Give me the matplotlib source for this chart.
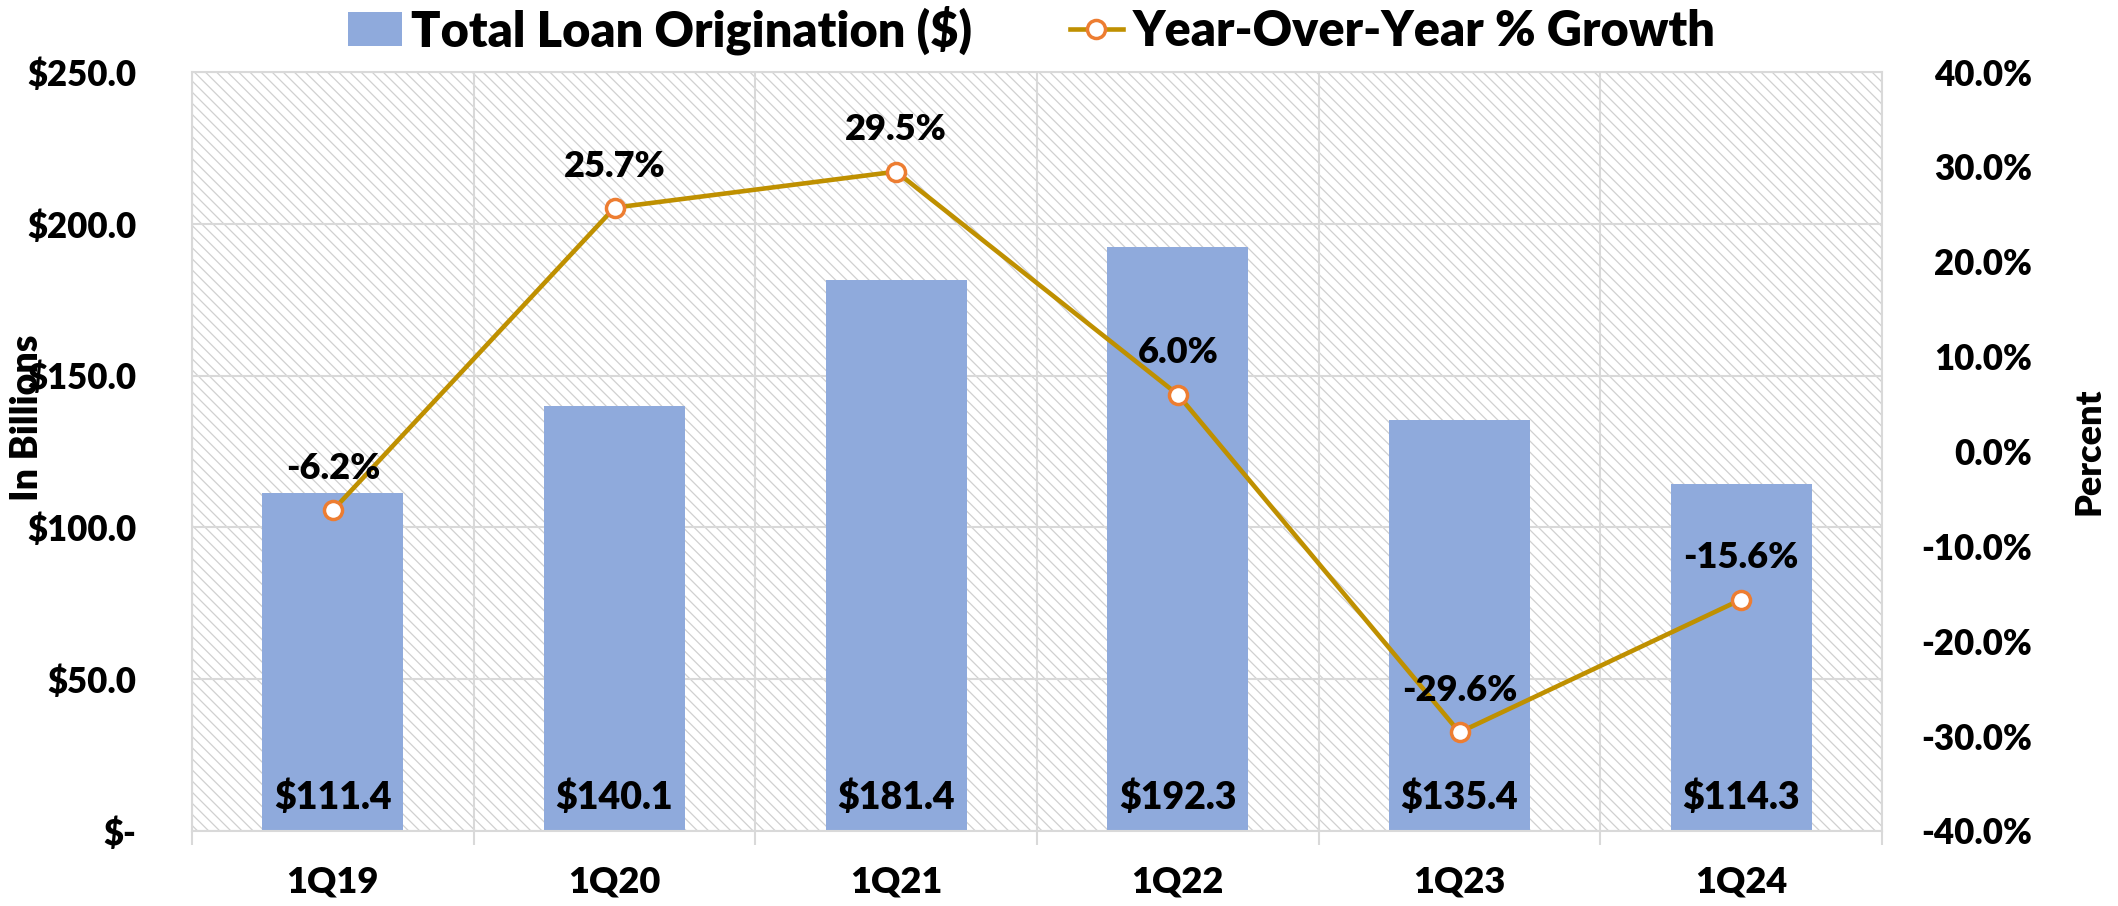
# Loan origination bars with year-over-year growth line.
import numpy as np
import matplotlib
matplotlib.use('Agg')
import matplotlib.pyplot as plt
from matplotlib.patches import Rectangle, Patch
from matplotlib.lines import Line2D

# Data.
quarters = ['1Q19', '1Q20', '1Q21', '1Q22', '1Q23', '1Q24']
origination = [111.4, 140.1, 181.4, 192.3, 135.4, 114.3]
growth = [-6.2, 25.7, 29.5, 6.0, -29.6, -15.6]
left_ticks = [0, 50, 100, 150, 200, 250]
right_ticks = [-40, -30, -20, -10, 0, 10, 20, 30, 40]

bar_color = '#8FAADC'
line_color = '#BF9000'
marker_edge = '#ED7D31'
grid_color = '#d9d9d9'
W = 'heavy'

plt.rcParams['font.family'] = ['Lato', 'DejaVu Sans']
plt.rcParams['font.weight'] = W
plt.rcParams['hatch.color'] = '#d0d0d0'
plt.rcParams['hatch.linewidth'] = 0.9

fig = plt.figure(figsize=(21.18, 9.06), dpi=100)
ax = fig.add_axes([192/2118, 1-831/906, (1882-192)/2118, (831-72)/906])
x = np.arange(len(quarters))

# Hatched plot background.
ax.add_patch(Rectangle((0, 0), 1, 1, transform=ax.transAxes, facecolor='white',
                       edgecolor='#d0d0d0', hatch='\\\\\\', lw=0, zorder=-1))

ax.bar(x, origination, width=0.5, color=bar_color, zorder=2)
ax.set_xlim(-0.5, len(quarters) - 0.5)
ax.set_ylim(0, 250)

# Bar value labels at the bottom of each bar.
for xi, v in zip(x, origination):
    ax.annotate(f'${v:.1f}', (xi, 0), xytext=(0, 24), textcoords='offset points',
                ha='center', va='center', fontsize=27, fontweight=W, zorder=5)

ax.set_yticks(left_ticks)
ax.set_yticklabels(['$-'] + [f'${t:.1f}' for t in left_ticks[1:]])
ax.set_xticks(x)
ax.set_xticklabels(quarters)
ax.set_xticks(np.arange(len(quarters) + 1) - 0.5, minor=True)
ax.tick_params(axis='y', length=0, pad=40, labelsize=25)
ax.tick_params(axis='x', which='major', length=0, pad=25, labelsize=26)
ax.tick_params(axis='x', which='minor', length=10, width=1.5, color=grid_color)
ax.set_axisbelow(True)
ax.grid(axis='y', which='major', color=grid_color, lw=1.5)
ax.grid(axis='x', which='minor', color=grid_color, lw=1.5)
for s in ax.spines.values():
    s.set_color(grid_color)
    s.set_linewidth(1.5)
ax.set_ylabel('In Billions', fontsize=27, fontweight=W)
ax.yaxis.set_label_coords(-(192-44)/1690, 0.545)

# Growth line on the right axis.
ax2 = ax.twinx()
ax2.plot(x, growth, color=line_color, lw=3.3, marker='o', ms=13,
         mfc='white', mec=marker_edge, mew=2.5, zorder=3)
ax2.set_ylim(-40, 40)
ax2.set_yticks(right_ticks)
ax2.set_yticklabels([f'{t:.1f}%' for t in right_ticks], ha='right')
ax2.tick_params(axis='y', length=0, pad=108, labelsize=25)
for s in ax2.spines.values():
    s.set_visible(False)
for xi, g in zip(x, growth):
    ax2.annotate(f'{g:.1f}%', (xi, g), xytext=(0, 30), textcoords='offset points',
                 ha='center', va='center', fontsize=26, fontweight=W)
ax2.set_ylabel('Percent', fontsize=26, fontweight=W)
ax2.yaxis.set_label_coords((2072-192)/1690, 0.50)

# Legend across the top.
handles = [Patch(facecolor=bar_color, edgecolor='none'),
           Line2D([], [], color=line_color, lw=3.3, marker='o', ms=13,
                  mfc='white', mec=marker_edge, mew=2.5)]
fig.legend(handles, ['Total Loan Origination ($)', 'Year-Over-Year % Growth'],
           loc='center', bbox_to_anchor=(1032/2118, 1-30/906), ncol=2,
           frameon=False, handlelength=1.1, handletextpad=0.2,
           columnspacing=2.0, prop={'weight': W, 'size': 35})

fig.savefig('out.png', dpi=100)
